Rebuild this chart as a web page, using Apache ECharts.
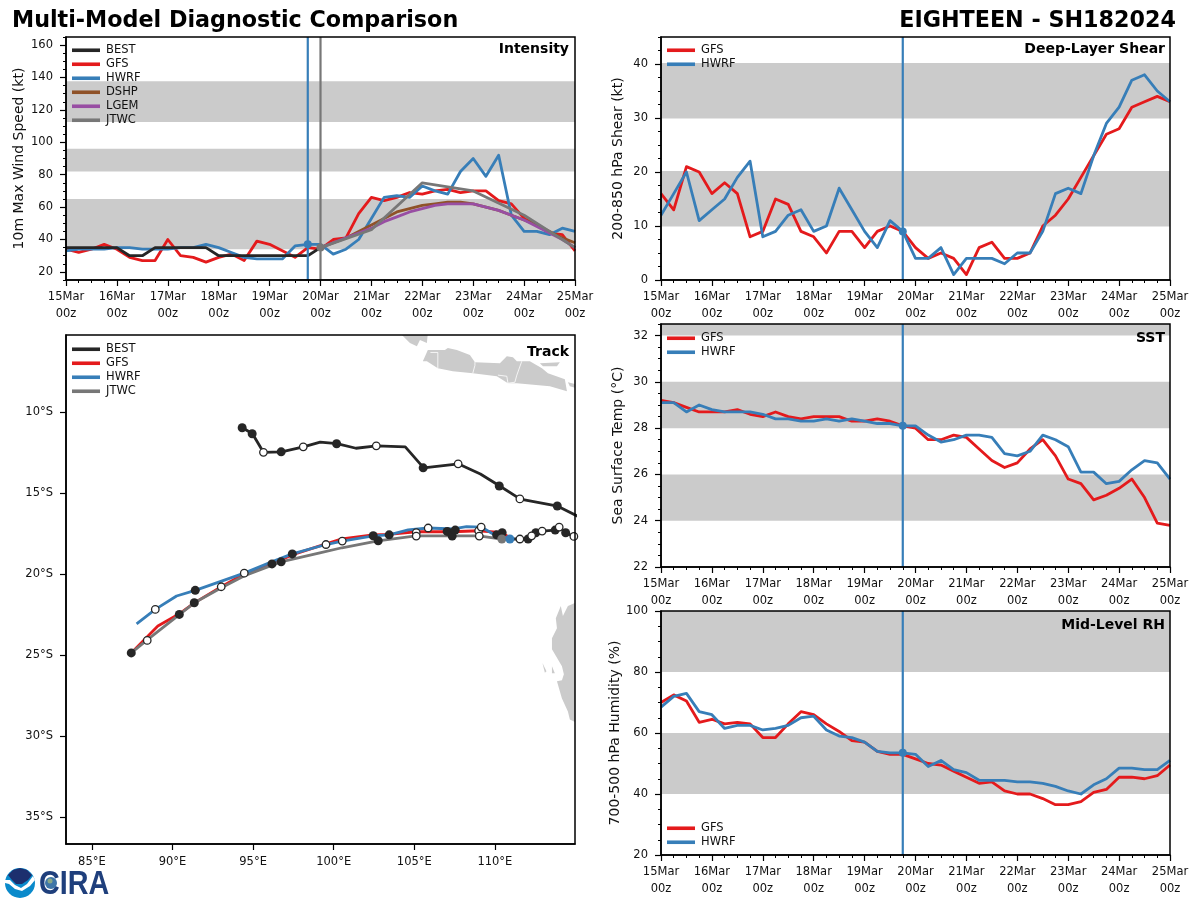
<!DOCTYPE html>
<html>
<head>
<meta charset="utf-8">
<title>Multi-Model Diagnostic Comparison</title>
<script src="https://cdn.jsdelivr.net/npm/echarts@6/dist/echarts.min.js"></script>
<style>
  html, body { margin: 0; padding: 0; background: #fff; }
  #chart { width: 1200px; height: 900px; }
</style>
</head>
<body>
<div id="chart"></div>
<script>
// x axes run in hours from 15Mar 00z, one value every 6 h
const tickLabels = ['15Mar\n00z', '16Mar\n00z', '17Mar\n00z', '18Mar\n00z', '19Mar\n00z', '20Mar\n00z',
  '21Mar\n00z', '22Mar\n00z', '23Mar\n00z', '24Mar\n00z', '25Mar\n00z'];
const modelNowHour = 114;
const jtwcNowHour = 120;

// intensity (kt)
const bestIntensity = [35, 35, 35, 35, 35, 30, 30, 35, 35, 35, 35, 35, 30, 30, 30, 30, 30, 30, 30, 30, 35];
const gfsIntensity = [34, 32, 34, 37, 34, 29, 27, 27, 40, 30, 29, 26, 29, 31, 27, 39, 37, 33, 29, 35, 34, 40, 41, 56, 66, 64, 66, 69, 68, 70, 71, 69, 70, 70, 64, 62, 53, 49, 44, 43, 33];
const hwrfIntensity = [33, 34, 34, 34, 35, 35, 34, 34, 34, 35, 35, 37, 35, 32, 29, 28, 28, 28, 36, 37, 37, 31, 34, 40, 53, 66, 67, 66, 73, 70, 68, 82, 90, 79, 92, 55, 45, 45, 43, 47, 45];
const dshpIntensity = [35, 38, 41, 45, 49, 53, 57, 59, 61, 62, 63, 63, 62, 60, 58, 55, 52, 49, 45, 41, 38];
const lgemIntensity = [35, 38, 41, 44, 47, 51, 54, 57, 59, 61, 62, 62, 62, 60, 58, 55, 52, 48, 44, 40, 35];
const jtwcHours = [120, 144, 168, 192, 216, 240];
const jtwcIntensity = [35, 46, 75, 70, 55, 35];
const intensityBands = [[34, 65], [82, 96], [112.5, 137.7]];
const intensityTicks = [20, 40, 60, 80, 100, 120, 140, 160];
const intensityMinor = [15, 25, 30, 35, 45, 50, 55, 65, 70, 75, 85, 90, 95, 105, 110, 115, 125, 130, 135, 145, 150, 155, 165];

// deep-layer shear (kt)
const gfsShear = [16, 13, 21, 20, 16, 18, 16, 8, 9, 15, 14, 9, 8, 5, 9, 9, 6, 9, 10, 9, 6, 4, 5, 4, 1, 6, 7, 4, 4, 5, 10, 12, 15, 19, 23, 27, 28, 32, 33, 34, 33];
const hwrfShear = [12, 16, 20, 11, 13, 15, 19, 22, 8, 9, 12, 13, 9, 10, 17, 13, 9, 6, 11, 9, 4, 4, 6, 1, 4, 4, 4, 3, 5, 5, 9, 16, 17, 16, 23, 29, 32, 37, 38, 35, 33];
const shearBands = [[9.9, 20.2], [29.9, 40.2]];
const shearTicks = [0, 10, 20, 30, 40];
const shearMinor = [2.5, 5, 7.5, 12.5, 15, 17.5, 22.5, 25, 27.5, 32.5, 35, 37.5, 42.5, 45];

// sea surface temperature (C)
const gfsSst = [29.2, 29.1, 28.9, 28.7, 28.7, 28.7, 28.8, 28.6, 28.5, 28.7, 28.5, 28.4, 28.5, 28.5, 28.5, 28.3, 28.3, 28.4, 28.3, 28.1, 28.0, 27.5, 27.5, 27.7, 27.6, 27.1, 26.6, 26.3, 26.5, 27.1, 27.5, 26.8, 25.8, 25.6, 24.9, 25.1, 25.4, 25.8, 25.0, 23.9, 23.8];
const hwrfSst = [29.1, 29.1, 28.7, 29.0, 28.8, 28.7, 28.7, 28.7, 28.6, 28.4, 28.4, 28.3, 28.3, 28.4, 28.3, 28.4, 28.3, 28.2, 28.2, 28.1, 28.1, 27.7, 27.4, 27.5, 27.7, 27.7, 27.6, 26.9, 26.8, 27.0, 27.7, 27.5, 27.2, 26.1, 26.1, 25.6, 25.7, 26.2, 26.6, 26.5, 25.8];
const sstBands = [[24, 26], [28, 30], [32, 32.5]];
const sstTicks = [22, 24, 26, 28, 30, 32];
const sstMinor = [22.5, 23, 23.5, 24.5, 25, 25.5, 26.5, 27, 27.5, 28.5, 29, 29.5, 30.5, 31, 31.5, 32.5];

// mid-level humidity (%)
const gfsRh = [70, 72.5, 70.5, 63.5, 64.5, 63, 63.5, 63, 58.5, 58.5, 63, 67, 66, 63, 60.5, 57.5, 57, 54, 53, 53, 51.5, 50, 49.5, 47.5, 45.5, 43.5, 44, 41, 40, 40, 38.5, 36.5, 36.5, 37.5, 40.5, 41.5, 45.5, 45.5, 45, 46, 49.5];
const hwrfRh = [68.5, 72, 73, 67, 66, 61.5, 62.5, 62.5, 61, 61.5, 62.5, 65, 65.5, 61, 59, 58.5, 57, 54, 53.5, 53.5, 53, 49, 51, 48, 47, 44.5, 44.5, 44.5, 44, 44, 43.5, 42.5, 41, 40, 43, 45, 48.5, 48.5, 48, 48, 51];
const rhBands = [[40, 60], [80, 100]];
const rhTicks = [20, 40, 60, 80, 100];
const rhMinor = [25, 30, 35, 45, 50, 55, 65, 70, 75, 85, 90, 95];

// track, [lon, lat]
const bestTrackNorth = [[94.34, -10.95], [94.96, -11.32], [95.64, -12.47], [96.76, -12.44], [98.12, -12.13], [99.16, -11.84], [100.2, -11.94], [101.38, -12.22], [102.66, -12.07], [104.44, -12.13], [105.58, -13.43], [107.75, -13.19], [109.1, -13.81], [110.3, -14.55], [111.58, -15.36], [113.9, -15.8], [115.5, -16.6]];
const bestTrackSouth = [[110.93, -17.83], [111.55, -17.83], [112.06, -17.83], [112.28, -17.63], [112.54, -17.44], [112.93, -17.34], [113.74, -17.28], [113.99, -17.09], [114.39, -17.44], [114.9, -17.67], [115.5, -17.9]];
const gfsTrack = [[87.44, -24.87], [89.09, -23.21], [90.4, -22.47], [91.33, -21.79], [93.0, -20.79], [94.43, -19.99], [96.17, -19.37], [97.41, -18.81], [99.14, -18.25], [100.51, -17.82], [102.43, -17.57], [103.42, -17.54], [105.1, -17.38], [107.33, -17.38], [109, -17.32], [110.43, -17.44], [110.93, -17.75]];
const hwrfTrack = [[87.77, -23.07], [88.93, -22.18], [90.25, -21.35], [91.41, -21.0], [94.45, -19.94], [96.04, -19.29], [97.43, -18.75], [99.52, -18.17], [100.53, -17.96], [102.45, -17.63], [103.44, -17.57], [104.62, -17.26], [105.86, -17.15], [107.41, -17.21], [108.24, -17.07], [109.15, -17.09], [109.89, -17.52], [110.93, -17.83]];
const jtwcTrack = [[87.44, -24.87], [88.41, -24.08], [91.33, -21.79], [93.0, -20.86], [94.43, -20.11], [96.72, -19.24], [99.14, -18.68], [100.51, -18.37], [102.74, -17.94], [105.1, -17.63], [107.33, -17.63], [109, -17.63], [110.43, -17.83]];
const filledMarks = [[94.32, -10.95], [94.94, -11.32], [96.74, -12.44], [100.18, -11.94], [105.55, -13.43], [110.27, -14.55], [113.87, -15.79],
  [87.44, -24.87], [90.42, -22.49], [91.35, -21.77], [91.41, -21.0], [96.17, -19.37], [96.74, -19.24], [97.43, -18.75], [102.45, -17.63], [102.76, -17.94], [103.44, -17.57],
  [107.04, -17.36], [107.35, -17.65], [107.54, -17.28], [110.11, -17.57], [110.45, -17.44], [112.06, -17.83], [112.54, -17.44], [113.74, -17.28], [114.39, -17.44]];
const openMarks = [[95.64, -12.47], [98.11, -12.13], [102.64, -12.07], [107.72, -13.18], [111.55, -15.35],
  [88.93, -22.18], [88.43, -24.1], [94.45, -19.94], [93.02, -20.78], [99.52, -18.17], [100.53, -17.96], [105.12, -17.44], [105.12, -17.65], [105.86, -17.15],
  [108.99, -17.32], [109.03, -17.65], [109.15, -17.09], [111.55, -17.83], [112.28, -17.63], [112.93, -17.34], [113.99, -17.09], [114.9, -17.67]];
const lonTicks = [85, 90, 95, 100, 105, 110];
const latTicks = [-10, -15, -20, -25, -30, -35];

// land outlines, [lon, lat]
const landShapes = [
  [[104.11, -5.1], [104.73, -5.72], [105.16, -5.91], [105.35, -5.53], [105.78, -5.72], [105.84, -5.1]],
  [[105.53, -6.84], [105.84, -6.15], [106.9, -6.15], [107.08, -6.03], [107.64, -6.15], [108.45, -6.46], [108.76, -6.9], [110.31, -6.96], [110.74, -6.53], [111.12, -6.59], [111.36, -6.84], [112.17, -6.84], [112.92, -7.27], [113.29, -7.58], [114.34, -7.95], [114.47, -8.7], [113.41, -8.39], [111.36, -8.2], [110.81, -8.2], [110.12, -7.77], [108.63, -7.58], [107.39, -7.46], [106.46, -7.27], [105.78, -6.84]],
  [[112.79, -6.96], [114.03, -6.9], [113.85, -7.15], [112.98, -7.15]],
  [[114.53, -8.14], [115.3, -8.33], [115.3, -8.57], [114.65, -8.39]],
  [[115.5, -21.7], [114.96, -21.79], [114.53, -21.97], [114.22, -22.59], [114.09, -21.97], [113.78, -22.72], [113.85, -23.34], [113.54, -23.96], [113.54, -24.64], [114.16, -25.69], [114.28, -26.19], [114.16, -26.56], [113.85, -26.62], [114.16, -27.68], [114.53, -28.49], [114.65, -28.98], [115.02, -29.17], [115.5, -29.2]],
  [[112.95, -25.5], [113.2, -26.0], [113.1, -26.1]],
  [[113.54, -25.69], [113.72, -26.13], [113.54, -26.13]]
];
const provinceLines = [
  [[106.0, -6.3], [106.46, -6.3], [106.46, -7.27]],
  [[108.76, -6.9], [108.76, -7.1], [108.63, -7.58]],
  [[111.67, -6.84], [111.36, -7.7], [111.24, -8.14], [110.81, -8.2]],
  [[110.19, -7.7], [110.74, -7.77], [110.81, -8.2]]
];

const FONT = 'DejaVu Sans';
const RED = '#e41a1c';
const BLUE = '#377eb8';
const BLACK = '#262626';
const BROWN = '#8f5228';
const PURPLE = '#984ea3';
const GREY = '#777777';
const BAND = '#cbcbcb';

const grids = [];
const xAxes = [];
const yAxes = [];
const series = [];
const legends = [];
const titles = [];

function addPanel(p) {
  const idx = grids.length;
  grids.push({ left: p.left, top: p.top, width: 509, height: p.height, show: false, containLabel: false });
  // second grid on top only carries the frame and the minor ticks
  grids.push({ left: p.left, top: p.top, width: 509, height: p.height, show: true, z: 10, backgroundColor: 'transparent', borderColor: '#000', borderWidth: 1.5 });

  const tickLine = { show: true, length: 6, lineStyle: { color: '#000', width: 1.2 } };
  const labelFont = { color: '#111', fontSize: 11.5, fontFamily: FONT };

  xAxes.push(p.track ? {
    gridIndex: idx, type: 'value', min: p.xMin, max: p.xMax, z: 10,
    splitLine: { show: false },
    axisLine: { show: true, onZero: false, lineStyle: { color: '#000', width: 1.5 } },
    axisTick: Object.assign({ customValues: p.xTicks }, tickLine),
    axisLabel: Object.assign({ customValues: p.xTicks, margin: 12, formatter: v => v + '°E' }, labelFont)
  } : {
    gridIndex: idx, type: 'value', min: 0, max: 240, interval: 24, z: 10,
    splitLine: { show: false },
    axisLine: { show: true, onZero: false, lineStyle: { color: '#000', width: 1.5 } },
    axisTick: tickLine,
    minorTick: { show: true, splitNumber: 4, length: 3, lineStyle: { color: '#000', width: 1 } },
    minorSplitLine: { show: false },
    axisLabel: Object.assign({ margin: 9, lineHeight: 17, formatter: v => tickLabels[v / 24] }, labelFont)
  });
  xAxes.push({ gridIndex: idx + 1, type: 'value', min: p.track ? p.xMin : 0, max: p.track ? p.xMax : 240, show: false });

  yAxes.push({
    gridIndex: idx, type: 'value', min: p.yMin, max: p.yMax, z: 10,
    name: p.name, nameLocation: 'middle', nameRotate: 90, nameGap: p.nameGap,
    nameTextStyle: { color: '#111', fontSize: 14, fontFamily: FONT },
    splitLine: { show: false },
    axisLine: { show: true, onZero: false, lineStyle: { color: '#000', width: 1.5 } },
    axisTick: Object.assign({ customValues: p.yTicks }, tickLine),
    axisLabel: Object.assign({ customValues: p.yTicks, margin: 13, formatter: p.track ? (v => (-v) + '°S') : undefined }, labelFont)
  });
  yAxes.push(p.yMinor ? {
    gridIndex: idx + 1, type: 'value', min: p.yMin, max: p.yMax, z: 10,
    splitLine: { show: false },
    axisLine: { show: false },
    axisLabel: { show: false },
    axisTick: { show: true, customValues: p.yMinor, length: 3, lineStyle: { color: '#000', width: 1 } }
  } : {
    gridIndex: idx + 1, type: 'value', min: p.yMin, max: p.yMax, show: false
  });

  titles.push({
    text: p.label, right: 1200 - p.left - 509 + p.labelRight, top: p.labelTop, padding: 0,
    textStyle: { fontFamily: FONT, fontWeight: 'bold', fontSize: 14, color: '#000' }
  });
  legends.push({
    data: p.legend, left: p.left + 6, top: p.legendTop, orient: 'vertical', itemWidth: 28, itemHeight: 3.6,
    itemGap: 1.5, selectedMode: false, icon: 'rect', padding: 0, z: 12,
    textStyle: { fontFamily: FONT, fontSize: 11.5, color: '#111', height: 12.5, lineHeight: 12.5, padding: [0, 0, 0, 1] }
  });
  return idx;
}

// one grey rectangle per [low, high] band
function addBands(idx, bands) {
  series.push({
    type: 'custom', xAxisIndex: idx, yAxisIndex: idx, z: 1, silent: true, clip: true,
    data: bands,
    encode: { y: [0, 1] },
    renderItem: (params, api) => {
      const tl = api.coord([0, api.value(1)]);
      const br = api.coord([240, api.value(0)]);
      return { type: 'rect', shape: { x: tl[0], y: tl[1], width: br[0] - tl[0], height: br[1] - tl[1] }, style: { fill: BAND } };
    }
  });
}

function addLine(idx, name, color, data, z) {
  series.push({
    type: 'line', name: name, xAxisIndex: idx, yAxisIndex: idx, z: z || 3, color: color, data: data,
    symbol: 'none', silent: true, clip: true,
    lineStyle: { color: color, width: 2.8, join: 'round' }
  });
}

function addDot(idx, color, point, size) {
  series.push({
    type: 'scatter', xAxisIndex: idx, yAxisIndex: idx, z: 7, silent: true, clip: true,
    symbol: 'circle', symbolSize: size || 8, data: [point], itemStyle: { color: color, opacity: 1 }
  });
}

function addNowLine(idx, color, hour, yMin, yMax) {
  series.push({
    type: 'line', xAxisIndex: idx, yAxisIndex: idx, z: 6, data: [[hour, yMin], [hour, yMax]],
    symbol: 'none', silent: true, lineStyle: { color: color, width: 2.2 }
  });
}

function timed(values, startHour) {
  return values.map((v, i) => [(startHour || 0) + i * 6, v]);
}

// Intensity
const pInt = addPanel({
  left: 66, top: 37, height: 243, yMin: 15, yMax: 165, yTicks: intensityTicks, yMinor: intensityMinor,
  name: '10m Max Wind Speed (kt)', nameGap: 40, label: 'Intensity', labelTop: 42, labelRight: 6, legendTop: 44,
  legend: ['BEST', 'GFS', 'HWRF', 'DSHP', 'LGEM', 'JTWC']
});
addBands(pInt, intensityBands);
addLine(pInt, 'GFS', RED, timed(gfsIntensity));
addLine(pInt, 'HWRF', BLUE, timed(hwrfIntensity), 4);
addLine(pInt, 'BEST', BLACK, timed(bestIntensity), 5);
addLine(pInt, 'DSHP', BROWN, timed(dshpIntensity, 120), 4);
addLine(pInt, 'LGEM', PURPLE, timed(lgemIntensity, 120), 4);
addLine(pInt, 'JTWC', GREY, jtwcHours.map((h, i) => [h, jtwcIntensity[i]]), 5);
addNowLine(pInt, BLUE, modelNowHour, 15, 165);
addNowLine(pInt, GREY, jtwcNowHour, 15, 165);
addDot(pInt, BLUE, [modelNowHour, hwrfIntensity[19]]);
addDot(pInt, GREY, [jtwcNowHour, jtwcIntensity[0]]);

// Shear
const pShear = addPanel({
  left: 661, top: 37, height: 243, yMin: 0, yMax: 45, yTicks: shearTicks, yMinor: shearMinor,
  name: '200-850 hPa Shear (kt)', nameGap: 36, label: 'Deep-Layer Shear', labelTop: 42, labelRight: 5, legendTop: 44,
  legend: ['GFS', 'HWRF']
});
addBands(pShear, shearBands);
addLine(pShear, 'GFS', RED, timed(gfsShear));
addLine(pShear, 'HWRF', BLUE, timed(hwrfShear), 4);
addNowLine(pShear, BLUE, modelNowHour, 0, 45);
addDot(pShear, BLUE, [modelNowHour, hwrfShear[19]]);

// SST
const pSst = addPanel({
  left: 661, top: 324, height: 243, yMin: 22, yMax: 32.5, yTicks: sstTicks, yMinor: sstMinor,
  name: 'Sea Surface Temp (°C)', nameGap: 36, label: 'SST', labelTop: 331, labelRight: 5, legendTop: 332,
  legend: ['GFS', 'HWRF']
});
addBands(pSst, sstBands);
addLine(pSst, 'GFS', RED, timed(gfsSst));
addLine(pSst, 'HWRF', BLUE, timed(hwrfSst), 4);
addNowLine(pSst, BLUE, modelNowHour, 22, 32.5);
addDot(pSst, BLUE, [modelNowHour, hwrfSst[19]]);

// RH
const pRh = addPanel({
  left: 661, top: 611, height: 244, yMin: 20, yMax: 100, yTicks: rhTicks, yMinor: rhMinor,
  name: '700-500 hPa Humidity (%)', nameGap: 36, label: 'Mid-Level RH', labelTop: 618, labelRight: 5, legendTop: 822,
  legend: ['GFS', 'HWRF']
});
addBands(pRh, rhBands);
addLine(pRh, 'GFS', RED, timed(gfsRh));
addLine(pRh, 'HWRF', BLUE, timed(hwrfRh), 4);
addNowLine(pRh, BLUE, modelNowHour, 20, 100);
addDot(pRh, BLUE, [modelNowHour, hwrfRh[19]]);

// Track
const pTrack = addPanel({
  track: true, left: 66, top: 335, height: 509, xMin: 83.39, xMax: 114.97, yMin: -36.68, yMax: -5.22,
  xTicks: lonTicks, yTicks: latTicks, label: 'Track', labelTop: 345, labelRight: 6, legendTop: 343,
  legend: ['BEST', 'GFS', 'HWRF', 'JTWC']
});
series.push({
  type: 'custom', xAxisIndex: pTrack, yAxisIndex: pTrack, z: 1, silent: true, clip: true,
  data: landShapes.map((s, i) => [i]),
  renderItem: (params, api) => ({
    type: 'polygon',
    shape: { points: landShapes[params.dataIndex].map(p => api.coord(p)) },
    style: { fill: BAND }
  })
});
provinceLines.forEach(line => {
  series.push({
    type: 'line', xAxisIndex: pTrack, yAxisIndex: pTrack, z: 2, data: line, symbol: 'none', silent: true,
    lineStyle: { color: '#fff', width: 0.8 }
  });
});
addLine(pTrack, 'BEST', BLACK, bestTrackNorth, 3);
addLine(pTrack, 'BEST', BLACK, bestTrackSouth, 3);
addLine(pTrack, 'GFS', RED, gfsTrack, 3);
addLine(pTrack, 'HWRF', BLUE, hwrfTrack, 5);
addLine(pTrack, 'JTWC', GREY, jtwcTrack, 4);
series.push({
  type: 'scatter', xAxisIndex: pTrack, yAxisIndex: pTrack, z: 6, silent: true,
  symbol: 'circle', symbolSize: 9, data: filledMarks, itemStyle: { color: BLACK, opacity: 1 }
});
series.push({
  type: 'scatter', xAxisIndex: pTrack, yAxisIndex: pTrack, z: 6, silent: true,
  symbol: 'circle', symbolSize: 7.5, data: openMarks,
  itemStyle: { color: '#fff', borderColor: BLACK, borderWidth: 1.3, opacity: 1 }
});
addDot(pTrack, GREY, jtwcTrack[jtwcTrack.length - 1], 9);
addDot(pTrack, BLUE, hwrfTrack[hwrfTrack.length - 1], 9);

titles.push({
  text: 'Multi-Model Diagnostic Comparison', left: 12, top: 10, padding: 0,
  textStyle: { fontFamily: FONT, fontWeight: 'bold', fontSize: 22.25, color: '#000' }
});
titles.push({
  text: 'EIGHTEEN - SH182024', right: 24, top: 10, padding: 0,
  textStyle: { fontFamily: FONT, fontWeight: 'bold', fontSize: 22.25, color: '#000' }
});

const chart = echarts.init(document.getElementById('chart'), null, { renderer: 'canvas' });
chart.setOption({
  animation: false,
  backgroundColor: '#fff',
  textStyle: { fontFamily: FONT },
  title: titles,
  legend: legends,
  grid: grids,
  xAxis: xAxes,
  yAxis: yAxes,
  series: series,
  // NOAA and CIRA marks, bottom left
  graphic: [
    { type: 'circle', shape: { cx: 20, cy: 883, r: 15 }, style: { fill: '#0a8acb' } },
    { type: 'polygon', shape: { points: [[8, 875], [13, 870], [20, 868], [27, 870], [32, 875], [28, 880], [22, 884], [16, 884], [12, 880]] }, style: { fill: '#1c2f6e' } },
    { type: 'polygon', shape: { points: [[5, 880], [10, 880], [15, 885], [21, 888], [27, 884], [33, 876], [35, 880], [30, 886], [22, 891], [15, 889], [9, 884], [5, 883]] }, style: { fill: '#fff' } },
    { type: 'text', x: 39, y: 868, scaleX: 0.87, style: { text: 'CIRA', fontFamily: 'Liberation Sans', fontWeight: 'bold', fontSize: 33, fill: '#1f3f7c' } },
    { type: 'circle', shape: { cx: 51, cy: 883, r: 6 }, style: { fill: '#3f76a8' } },
    { type: 'circle', shape: { cx: 50, cy: 881, r: 2.5 }, style: { fill: '#8aa888' } }
  ]
});
</script>
</body>
</html>
